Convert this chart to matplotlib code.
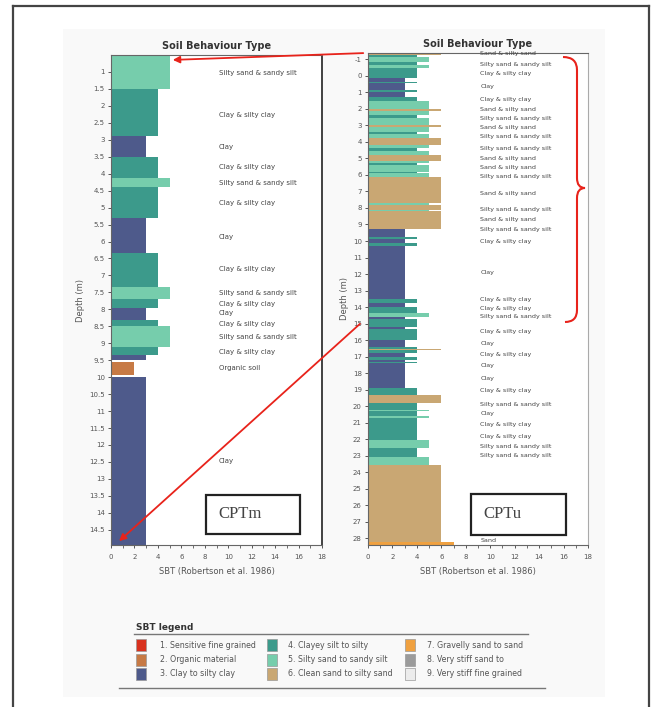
import matplotlib
matplotlib.use('Agg')
import matplotlib.pyplot as plt
from matplotlib.patches import Rectangle, PathPatch, FancyArrowPatch
from matplotlib.path import Path
from matplotlib.lines import Line2D

# SBT zone colours (Robertson 1986)
zone_colors = {1: '#d9321f', 2: '#c77a45', 3: '#4e5a8b', 4: '#3c9a8b',
               5: '#76cdac', 6: '#c9a773', 7: '#f0a140', 8: '#9b9b9b', 9: '#ececec'}
legend_names = ['1. Sensitive fine grained', '2. Organic material', '3. Clay to silty clay',
                '4. Clayey silt to silty', '5. Silty sand to sandy silt', '6. Clean sand to silty sand',
                '7. Gravelly sand to sand', '8. Very stiff sand to', '9. Very stiff fine grained']

# CPTm layers: boundaries (m) and SBT zone of each layer (0 = gap)
m_bounds = [0.5, 1.5, 2.9, 3.5, 4.14, 4.38, 5.3, 6.33, 7.33, 7.7, 7.95, 8.32, 8.5, 9.1,
            9.35, 9.5, 9.55, 9.95, 10.0, 14.95]
m_zone = [5, 4, 3, 4, 5, 4, 3, 4, 5, 4, 3, 4, 5, 4, 3, 0, 2, 0, 3]
m_lab_depth = [1.03, 2.27, 3.21, 3.8, 4.28, 4.87, 5.87, 6.81, 7.52, 7.85, 8.11, 8.43, 8.82,
               9.26, 9.73, 12.48]
m_lab_text = ['Silty sand & sandy silt', 'Clay & silty clay', 'Clay', 'Clay & silty clay',
              'Silty sand & sandy silt', 'Clay & silty clay', 'Clay', 'Clay & silty clay',
              'Silty sand & sandy silt', 'Clay & silty clay', 'Clay', 'Clay & silty clay',
              'Silty sand & sandy silt', 'Clay & silty clay', 'Organic soil', 'Clay']
m_yticks = [1, 1.5, 2, 2.5, 3, 3.5, 4, 4.5, 5, 5.5, 6, 6.5, 7, 7.5, 8, 8.5, 9, 9.5, 10,
            10.5, 11, 11.5, 12, 12.5, 13, 13.5, 14, 14.5]

# CPTu layers
u_bounds = [-1.38, -1.28, -1.16, -0.86, -0.65, -0.45, 0.15, 0.36, 0.46, 0.86, 1.0, 1.26,
            1.5, 2.03, 2.11, 2.4, 2.55, 2.98, 3.08, 3.4, 3.55, 3.79, 4.19, 4.4, 4.55, 4.79,
            5.14, 5.3, 5.4, 5.8, 5.9, 6.1, 7.72, 7.8, 8.12, 8.2, 9.29, 9.78, 9.9, 10.14,
            10.3, 13.53, 13.75, 14.0, 14.38, 14.6, 14.75, 15.18, 15.3, 16.0, 16.4, 16.54,
            16.62, 16.8, 17.0, 17.2, 17.3, 17.4, 18.92, 19.32, 19.83, 20.2, 20.3, 20.6,
            20.7, 22.05, 22.55, 23.05, 23.56, 28.2, 28.4]
u_zone = [6, 4, 5, 4, 5, 4, 3, 4, 3, 4, 3, 4, 5, 6, 5, 4, 5, 6, 5, 4, 5, 6, 5, 4, 5,
          6, 5, 4, 5, 4, 5, 6, 5, 6, 5, 6, 3, 4, 3, 4, 3, 4, 3, 4, 5, 3, 4, 3, 4, 3,
          4, 6, 4, 3, 4, 3, 4, 3, 4, 6, 4, 5, 4, 5, 4, 5, 4, 5, 6, 7]
u_lab_depth = [-1.32, -0.7, -0.11, 0.66, 1.46, 2.01, 2.57, 3.14, 3.69, 4.39, 5.0, 5.54,
               6.11, 7.15, 8.08, 8.69, 9.29, 10.0, 11.92, 13.53, 14.07, 14.58, 15.49,
               16.19, 16.84, 17.51, 18.35, 19.06, 19.87, 20.43, 21.08, 21.85, 22.45,
               23.01, 28.14]
u_lab_text = ['Sand & silty sand', 'Silty sand & sandy silt', 'Clay & silty clay', 'Clay',
              'Clay & silty clay', 'Sand & silty sand', 'Silty sand & sandy silt',
              'Sand & silty sand', 'Silty sand & sandy silt', 'Silty sand & sandy silt',
              'Sand & silty sand', 'Sand & silty sand', 'Silty sand & sandy silt',
              'Sand & silty sand', 'Silty sand & sandy silt', 'Sand & silty sand',
              'Silty sand & sandy silt', 'Clay & silty clay', 'Clay', 'Clay & silty clay',
              'Clay & silty clay', 'Silty sand & sandy silt', 'Clay & silty clay', 'Clay',
              'Clay & silty clay', 'Clay', 'Clay', 'Clay & silty clay',
              'Silty sand & sandy silt', 'Clay', 'Clay & silty clay', 'Clay & silty clay',
              'Silty sand & sandy silt', 'Silty sand & sandy silt', 'Sand']
u_yticks = list(range(-1, 29))
xticks = [0, 2, 4, 6, 8, 10, 12, 14, 16, 18]

W, H = 661, 707
fig = plt.figure(figsize=(W / 100, H / 100), dpi=100)


def fx(px):
    return px / W


def fy(py):
    return 1 - py / H


# scanned page background + outer frame
fig.patches.append(Rectangle((fx(63), fy(697)), fx(605) - fx(63), fy(29) - fy(697),
                             transform=fig.transFigure, facecolor='#f9f9f9',
                             edgecolor='none', zorder=-5))
for xs, ys in [([13, 13], [6, 707]), ([13, 649], [6, 6]), ([649, 649], [6, 707])]:
    fig.add_artist(Line2D([fx(v) for v in xs], [fy(v) for v in ys], color='#444444',
                          lw=1.6, transform=fig.transFigure))


def sbt_panel(ax, bounds, zones, lab_d, lab_t, yticks, ylim, lab_fs):
    for i, z in enumerate(zones):
        if z == 0:
            continue
        top, bot = bounds[i], bounds[i + 1]
        ax.barh((top + bot) / 2, z, height=bot - top, left=0, color=zone_colors[z],
                edgecolor='none')
    for d, t in zip(lab_d, lab_t):
        ax.text(9.2, d, t, fontsize=lab_fs, va='center', ha='left', color='#444444')
    ax.set_xlim(0, 18)
    ax.set_ylim(*ylim)
    ax.set_xticks(xticks)
    ax.set_xticks(range(1, 18, 2), minor=True)
    ax.set_yticks(yticks)
    ax.set_yticklabels([f'{v:g}' for v in yticks])
    ax.tick_params(labelsize=5, colors='#555555', length=2.5, width=0.7, pad=2)
    ax.tick_params(axis='x', pad=4)
    ax.tick_params(which='minor', length=1.8, width=0.6, colors='#555555')
    ax.set_title('Soil Behaviour Type', fontsize=7, fontweight='bold', color='#333333', pad=4)
    ax.set_xlabel('SBT (Robertson et al. 1986)', fontsize=6, color='#555555', labelpad=5)
    ax.set_ylabel('Depth (m)', fontsize=6, color='#555555', labelpad=3)
    for s in ax.spines.values():
        s.set_color('#666666')
        s.set_linewidth(0.8)
    ax.set_facecolor('white')


ax1 = fig.add_axes([fx(111), fy(545), fx(322) - fx(111), fy(55) - fy(545)])
sbt_panel(ax1, m_bounds, m_zone, m_lab_depth, m_lab_text, m_yticks, (14.95, 0.5), 5)
ax1.spines['right'].set_color('#333333')
ax1.spines['right'].set_linewidth(1.3)

ax2 = fig.add_axes([fx(368), fy(545), fx(588) - fx(368), fy(53) - fy(545)])
sbt_panel(ax2, u_bounds, u_zone, u_lab_depth, u_lab_text, u_yticks, (28.4, -1.38), 4.6)
ax2.spines['right'].set_color('#aaaaaa')

# CPT name boxes
for (x0, y0, x1, y1, name) in [(206, 495, 300, 534, 'CPTm'), (471, 494, 566, 535, 'CPTu')]:
    fig.patches.append(Rectangle((fx(x0), fy(y1)), fx(x1) - fx(x0), fy(y0) - fy(y1),
                                 transform=fig.transFigure, facecolor='none',
                                 edgecolor='#222222', lw=1.6, zorder=5))
    fig.text(fx(x0 + 12), fy((y0 + y1) / 2), name, family='Liberation Serif',
             fontsize=12, color='#444444', va='center', ha='left', zorder=6)

# red arrows
red = '#e8231b'
for (xa, ya, xb, yb) in [(366, 53, 170, 60), (362, 322, 117, 543)]:
    fig.add_artist(FancyArrowPatch(
        (fx(xa), fy(ya)), (fx(xb), fy(yb)), transform=fig.transFigure,
        arrowstyle='-|>', mutation_scale=10, color=red, lw=1.3, zorder=7))

# curly brace
pts = [(563, 57), (577, 57), (577, 70), (577, 178), (577, 188), (585, 188),
       (577, 188), (577, 198), (577, 310), (577, 322), (565, 322)]
codes = [Path.MOVETO, Path.CURVE3, Path.CURVE3, Path.LINETO, Path.CURVE3, Path.CURVE3,
         Path.CURVE3, Path.CURVE3, Path.LINETO, Path.CURVE3, Path.CURVE3]
brace = Path([(fx(a), fy(b)) for a, b in pts], codes)
fig.add_artist(PathPatch(brace, transform=fig.transFigure, facecolor='none',
                         edgecolor=red, lw=1.5, zorder=7))

# SBT legend
fig.text(fx(136), fy(627), 'SBT legend', fontsize=6.5, fontweight='bold', color='#333333',
         va='center', ha='left')
fig.add_artist(Line2D([fx(134), fx(528)], [fy(634), fy(634)], color='#777777', lw=1,
                      transform=fig.transFigure))
fig.add_artist(Line2D([fx(119), fx(545)], [fy(688), fy(688)], color='#777777', lw=1,
                      transform=fig.transFigure))
sw_x = [141, 272, 410]
tx_x = [160, 288, 427]
row_y = [645, 660, 674]
for k, name in enumerate(legend_names):
    c, r = k // 3, k % 3
    fig.patches.append(Rectangle((fx(sw_x[c] - 5), fy(row_y[r] + 6)), 10 / W, 12 / H,
                                 transform=fig.transFigure, facecolor=zone_colors[k + 1],
                                 edgecolor='#999999', lw=0.5))
    fig.text(fx(tx_x[c]), fy(row_y[r]), name, fontsize=5.7, color='#555555',
             va='center', ha='left')

fig.savefig('out.png', dpi=100)
